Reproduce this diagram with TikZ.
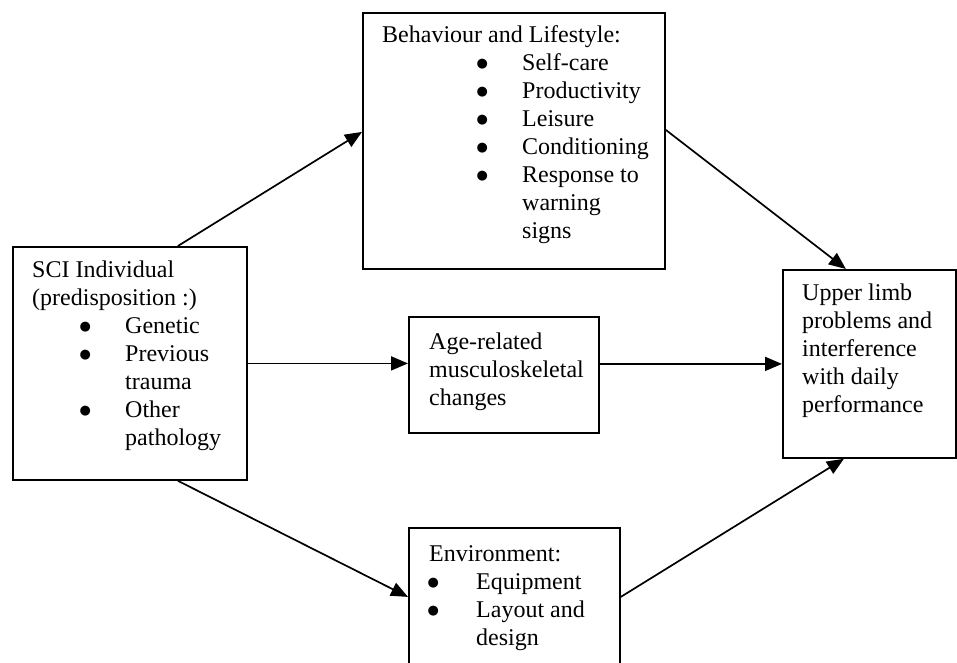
\documentclass[tikz,border=0pt]{standalone}
\usepackage{fontspec}
\setmainfont{Liberation Serif}
\newfontfamily\symfont{DejaVu Sans}
\usetikzlibrary{arrows.meta,calc}
\newcommand{\blt}{\raisebox{3pt}{\symfont\fontsize{13}{13}\selectfont ●}}
\newcommand{\itm}[3]{\makebox[#2][l]{\hspace*{#1}\makebox[0pt]{\blt}}#3}

\begin{document}
\begin{tikzpicture}[
    x=1pt, y=-1pt,
    box/.style={draw, line width=1.8pt, inner sep=0pt, anchor=north west},
    txt/.style={anchor=base west, inner sep=0pt, font=\fontsize{24}{28}\selectfont},
    arr/.style={line width=1.7pt, -{Triangle[length=17pt,width=14pt]}}
]
\useasboundingbox (0,0) rectangle (957,662);
\clip (0,0) rectangle (957,662);

\node[box, minimum width=302pt, minimum height=256pt] (beh) at (362,12) {};
\node[box, minimum width=234pt, minimum height=233pt] (sci) at (12,246) {};
\node[box, minimum width=190pt, minimum height=116pt] (age) at (408,316) {};
\node[box, minimum width=173pt, minimum height=188pt] (upper) at (782,269) {};
\node[box, minimum width=211pt, minimum height=138pt] (env) at (408,527) {};

\node[txt] (behtxt) at (382,42) {\parbox[t]{280pt}{Behaviour and Lifestyle:\\
    \itm{100pt}{140pt}{Self-care}\\
    \itm{100pt}{140pt}{Productivity}\\
    \itm{100pt}{140pt}{Leisure}\\
    \itm{100pt}{140pt}{Conditioning}\\
    \itm{100pt}{140pt}{Response to}\\
    \hspace*{140pt}warning\\
    \hspace*{140pt}signs}};
\node[txt] (scitxt) at (32,277) {\parbox[t]{210pt}{SCI Individual\\
    (predisposition :)\\
    \itm{53pt}{93pt}{Genetic}\\
    \itm{53pt}{93pt}{Previous}\\
    \hspace*{93pt}trauma\\
    \itm{53pt}{93pt}{Other}\\
    \hspace*{93pt}pathology}};
\node[txt] (agetxt) at (429,349) {\parbox[t]{170pt}{Age-related\\
    musculoskeletal\\
    changes}};
\node[txt] (uppertxt) at (802,300) {\parbox[t]{150pt}{Upper limb\\
    problems and\\
    interference\\
    with daily\\
    performance}};
\node[txt] (envtxt) at (429,561) {\parbox[t]{185pt}{Environment:\\
    \itm{4pt}{47pt}{Equipment}\\
    \itm{4pt}{47pt}{Layout and}\\
    \hspace*{47pt}design}};

\draw[arr] ([xshift=48pt]sci.north) -- ([yshift=9pt]beh.west);
\draw[arr] ([yshift=11pt]beh.east) -- ([xshift=-23.5pt]upper.north);
\draw[arr] (sci.east) -- (sci.east -| age.west);
\draw[arr] (upper.west -| age.east) -- (upper.west);
\draw[arr] ([xshift=48pt]sci.south) -- (env.west);
\draw[arr] (env.east) -- ([xshift=-25.5pt]upper.south);
\end{tikzpicture}
\end{document}
